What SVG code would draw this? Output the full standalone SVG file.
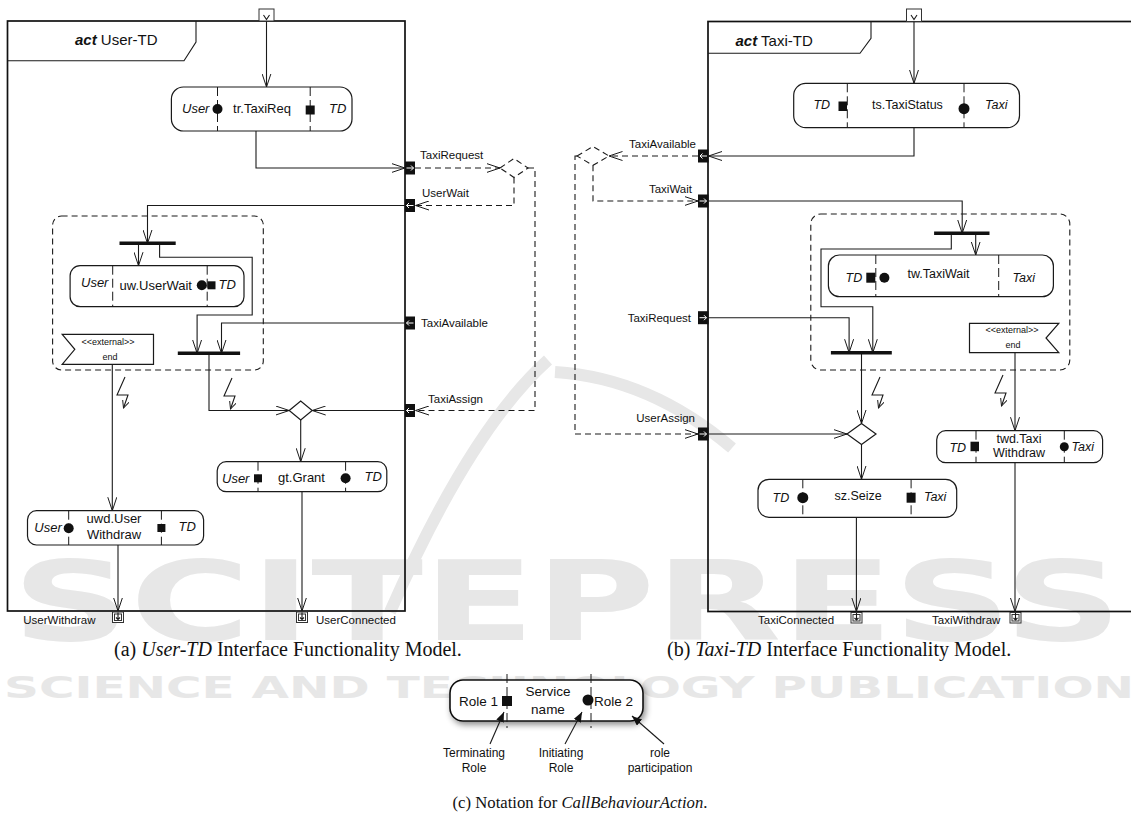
<svg xmlns="http://www.w3.org/2000/svg" width="1131" height="825" viewBox="0 0 1131 825">
<style>
.ln{fill:none;stroke:#1a1a1a;stroke-width:1.1}
.dl{fill:none;stroke:#1a1a1a;stroke-width:1.1;stroke-dasharray:6,4}
.fr{fill:none;stroke:#111;stroke-width:1.7}
.nd{fill:#fff;stroke:#1a1a1a;stroke-width:1.2}
.dv{stroke:#1a1a1a;stroke-width:1;stroke-dasharray:9,4}
.bar{stroke:#111;stroke-width:3.6}
.pin{fill:#111}
.pa{fill:none;stroke:#fff;stroke-width:1}
.op{fill:#fff;stroke:#333;stroke-width:1}
.t{font-family:"Liberation Sans",Arial,sans-serif;font-size:13px;fill:#111}
.tr{font-family:"Liberation Sans",Arial,sans-serif;font-size:12.5px;fill:#111}
.i{font-style:italic}
.lb{font-family:"Liberation Sans",Arial,sans-serif;font-size:11.5px;fill:#111}
.sm{font-family:"Liberation Sans",Arial,sans-serif;font-size:9px;fill:#111}
.ttl{font-family:"Liberation Sans",Arial,sans-serif;font-size:15px;fill:#111}
.cap{font-family:"Liberation Serif","Times New Roman",serif;font-size:20px;fill:#111}
.capc{font-family:"Liberation Serif","Times New Roman",serif;font-size:16.7px;fill:#111}
.lg{font-family:"Liberation Sans",Arial,sans-serif;font-size:13.5px;fill:#111}
.lgs{font-family:"Liberation Sans",Arial,sans-serif;font-size:12px;fill:#111}
.wm{font-family:"DejaVu Sans",sans-serif;font-weight:bold;fill:#e7e7e7}
</style>
<defs>
<marker id="oa" viewBox="0 0 14 10" refX="13.5" refY="5" markerWidth="14" markerHeight="10" markerUnits="userSpaceOnUse" orient="auto"><path d="M0,0.5 L13.5,5 L0,9.5" fill="none" stroke="#1a1a1a" stroke-width="1"/></marker>
<marker id="sa" viewBox="0 0 8 7" refX="7.5" refY="3.5" markerWidth="8" markerHeight="7" markerUnits="userSpaceOnUse" orient="auto"><path d="M0,0 L7.5,3.5 L0,7" fill="none" stroke="#1a1a1a" stroke-width="1"/></marker>
<marker id="fa" viewBox="0 0 10 8" refX="10" refY="4" markerWidth="10" markerHeight="8" markerUnits="userSpaceOnUse" orient="auto"><path d="M0,0 L10,4 L0,8 z" fill="#111"/></marker>
<filter id="sh" x="-20%" y="-40%" width="140%" height="180%"><feDropShadow dx="2" dy="3" stdDeviation="3" flood-color="#000" flood-opacity="0.45"/></filter>
<path id="lt" d="M0,0 L-8,18 L3,18 L-1.5,31" class="ln" marker-end="url(#sa)"/>
</defs>
<rect width="1131" height="825" fill="#fff"/>

<g id="watermark">
<path d="M548,360 Q470,430 390,612" fill="none" stroke="#e7e7e7" stroke-width="12"/>
<path d="M555,372 Q650,378 732,448" fill="none" stroke="#e7e7e7" stroke-width="12"/>
<text class="wm" x="12" y="640" font-size="110" textLength="1110" lengthAdjust="spacingAndGlyphs">SCITEPRESS</text>
<text class="wm" x="4" y="698" font-size="30" textLength="1165" lengthAdjust="spacingAndGlyphs">SCIENCE AND TECHNOLOGY PUBLICATIONS</text>
</g>

<g id="frame-user-td">
<rect class="fr" x="7.5" y="21" width="397.5" height="590"/>
<path class="ln" d="M7.5,60.7 H184 L196,42 V21" stroke-width="1.2"/>
<text class="ttl" x="75" y="45"><tspan font-weight="bold" font-style="italic">act</tspan> User-TD</text>
</g>

<g id="frame-taxi-td">
<rect class="fr" x="708" y="21.5" width="440" height="590"/>
<path class="ln" d="M708,53.3 H860 L871,38.3 V21.5" stroke-width="1.2"/>
<text class="ttl" x="735.5" y="46"><tspan font-weight="bold" font-style="italic">act</tspan> Taxi-TD</text>
</g>

<g id="connectors">
<path class="ln" d="M266.5,9 V87" marker-end="url(#oa)"/>
<path class="ln" d="M256,131 V168 H405" marker-end="url(#oa)"/>
<path class="dl" d="M415,168 H500" marker-end="url(#oa)"/>
<path class="dl" d="M528,168 H535 V410.5 H415.5" marker-end="url(#oa)"/>
<path class="dl" d="M514,177.5 V205.5 H415.5" marker-end="url(#oa)"/>
<path class="ln" d="M405,205.5 H147.5 V243.3" marker-end="url(#oa)"/>
<path class="ln" d="M138.5,243.3 V265.7" marker-end="url(#oa)"/>
<path class="ln" d="M159.6,243.3 V257.3 H252.2 V315 H197.1 V353.3" marker-end="url(#oa)"/>
<path class="ln" d="M405,323 H221.5 V353.3" marker-end="url(#oa)"/>
<path class="ln" d="M209,353.3 V410.5 H289.2" marker-end="url(#oa)"/>
<path class="ln" d="M405,410.5 H312.2" marker-end="url(#oa)"/>
<path class="ln" d="M300.7,420 V461.7" marker-end="url(#oa)"/>
<path class="ln" d="M112.3,364.3 V510.7" marker-end="url(#oa)"/>
<path class="ln" d="M302,491.7 V611" marker-end="url(#oa)"/>
<path class="ln" d="M118,545 V611" marker-end="url(#oa)"/>
<use href="#lt" x="125" y="377"/>
<use href="#lt" x="232" y="378"/>
<path class="ln" d="M914,9 V83.3" marker-end="url(#oa)"/>
<path class="ln" d="M914,127.7 V156 H708.5" marker-end="url(#oa)"/>
<path class="dl" d="M698,156 H609" marker-end="url(#oa)"/>
<path class="dl" d="M577,156 H575 V434 H698" marker-end="url(#oa)"/>
<path class="dl" d="M593,165.3 V201 H698" marker-end="url(#oa)"/>
<path class="ln" d="M708.5,201 H962.2 V233.3" marker-end="url(#oa)"/>
<path class="ln" d="M975.7,233.3 V255" marker-end="url(#oa)"/>
<path class="ln" d="M951.3,233.3 V249 H821 V306.7 H872.8 V352.7" marker-end="url(#oa)"/>
<path class="ln" d="M708.5,317.7 H849.1 V352.7" marker-end="url(#oa)"/>
<path class="ln" d="M861.5,352.7 V423.5" marker-end="url(#oa)"/>
<path class="ln" d="M708.5,434 H847" marker-end="url(#oa)"/>
<path class="ln" d="M861.5,444.5 V479.3" marker-end="url(#oa)"/>
<path class="ln" d="M856.4,517.3 V611.5" marker-end="url(#oa)"/>
<path class="ln" d="M1015,352.7 V430.7" marker-end="url(#oa)"/>
<path class="ln" d="M1015,462.7 V611.5" marker-end="url(#oa)"/>
<use href="#lt" x="880" y="377"/>
<use href="#lt" x="1003" y="375"/>
</g>

<g id="pins-user-td">
<rect class="op" x="259" y="9" width="15" height="12"/>
<path class="ln" d="M263.5,15 L266.5,19.5 L269.5,15"/>
<rect class="pin" x="405" y="161.5" width="10" height="13"/>
<path class="pa" d="M406.5,168 H413.5 M411,165.5 L413.5,168 L411,170.5"/>
<text class="lb" x="420" y="159">TaxiRequest</text>
<rect class="pin" x="405" y="199" width="10" height="13"/>
<path class="pa" d="M413.5,205.5 H406.5 M409,203 L406.5,205.5 L409,208"/>
<text class="lb" x="422" y="197">UserWait</text>
<rect class="pin" x="405" y="316.5" width="10" height="13"/>
<path class="pa" d="M413.5,323 H406.5 M409,320.5 L406.5,323 L409,325.5"/>
<text class="lb" x="421" y="327">TaxiAvailable</text>
<rect class="pin" x="405" y="404" width="10" height="13"/>
<path class="pa" d="M413.5,410.5 H406.5 M409,408 L406.5,410.5 L409,413"/>
<text class="lb" x="428" y="403">TaxiAssign</text>
<rect class="op" x="112.5" y="612" width="11" height="10.5"/>
<rect class="op" x="114.5" y="614" width="7" height="6.5"/>
<path class="ln" d="M118,612.5 V619.5 M116,617.5 L118,619.5 L120,617.5"/>
<text class="lb" x="23.3" y="624">UserWithdraw</text>
<rect class="op" x="296.5" y="612" width="11" height="10.5"/>
<rect class="op" x="298.5" y="614" width="7" height="6.5"/>
<path class="ln" d="M302,612.5 V619.5 M300,617.5 L302,619.5 L304,617.5"/>
<text class="lb" x="316" y="624">UserConnected</text>
</g>

<g id="pins-taxi-td">
<rect class="op" x="906.5" y="9" width="15" height="12.5"/>
<path class="ln" d="M911,15 L914,19.5 L917,15"/>
<rect class="pin" x="698" y="149.5" width="10.5" height="13"/>
<path class="pa" d="M707,156 H700 M702.5,153.5 L700,156 L702.5,158.5"/>
<text class="lb" x="696" y="147.5" text-anchor="end">TaxiAvailable</text>
<rect class="pin" x="698" y="194.5" width="10.5" height="13"/>
<path class="pa" d="M699.5,201 H706.5 M704,198.5 L706.5,201 L704,203.5"/>
<text class="lb" x="692" y="193.3" text-anchor="end">TaxiWait</text>
<rect class="pin" x="698" y="311.2" width="10.5" height="13"/>
<path class="pa" d="M699.5,317.7 H706.5 M704,315.2 L706.5,317.7 L704,320.2"/>
<text class="lb" x="691" y="321.5" text-anchor="end">TaxiRequest</text>
<rect class="pin" x="698" y="427.5" width="10.5" height="13"/>
<path class="pa" d="M699.5,434 H706.5 M704,431.5 L706.5,434 L704,436.5"/>
<text class="lb" x="695" y="421.7" text-anchor="end">UserAssign</text>
<rect class="op" x="851" y="612.5" width="11" height="10.5"/>
<rect class="op" x="853" y="614.5" width="7" height="6.5"/>
<path class="ln" d="M856.5,613 V620 M854.5,618 L856.5,620 L858.5,618"/>
<text class="lb" x="758" y="623.5">TaxiConnected</text>
<rect class="op" x="1010" y="612.5" width="11" height="10.5"/>
<rect class="op" x="1012" y="614.5" width="7" height="6.5"/>
<path class="ln" d="M1015.5,613 V620 M1013.5,618 L1015.5,620 L1017.5,618"/>
<text class="lb" x="932" y="623.5">TaxiWithdraw</text>
</g>

<g id="outer-decisions">
<polygon class="dl" points="500,168 514,158.5 528,168 514,177.5" fill="#fff"/>
<polygon class="dl" points="577,156 593,146.5 609,156 593,165.3" fill="#fff"/>
</g>

<g id="region-user"><rect x="52.6" y="216" width="210.7" height="154" rx="9" class="dl"/></g>
<g id="region-taxi"><rect x="810.8" y="214" width="259" height="156" rx="10" class="dl"/></g>

<g id="fork-user-1"><line class="bar" x1="119.5" y1="243.3" x2="175.7" y2="243.3"/></g>
<g id="join-user-1"><line class="bar" x1="177.8" y1="353.3" x2="240.1" y2="353.3"/></g>
<g id="decision-user"><polygon class="nd" points="289.2,410.5 300.7,401 312.2,410.5 300.7,420"/></g>
<g id="fork-taxi-1"><line class="bar" x1="934.1" y1="233.3" x2="989.5" y2="233.3"/></g>
<g id="join-taxi-1"><line class="bar" x1="830.9" y1="352.7" x2="891.8" y2="352.7"/></g>
<g id="decision-taxi"><polygon class="nd" points="847,434 861.5,423.5 876,434 861.5,444.5"/></g>

<g id="node-tr-taxireq">
<rect class="nd" x="171.4" y="87" width="180.6" height="44" rx="12"/>
<line class="dv" x1="217.5" y1="87" x2="217.5" y2="131"/>
<line class="dv" x1="310.2" y1="87" x2="310.2" y2="131"/>
<circle cx="217.5" cy="109" r="5" fill="#111"/>
<rect x="305.7" y="105.5" width="9" height="9" fill="#111"/>
<text class="t i" x="182" y="113">User</text>
<text class="t" x="262" y="113" text-anchor="middle">tr.TaxiReq</text>
<text class="t i" x="329" y="113">TD</text>
</g>

<g id="node-uw-userwait">
<rect class="nd" x="70.1" y="265.7" width="173.9" height="41" rx="10"/>
<line class="dv" x1="112.7" y1="265.7" x2="112.7" y2="306.7"/>
<line class="dv" x1="207.2" y1="265.7" x2="207.2" y2="306.7"/>
<circle cx="201.8" cy="285.3" r="5" fill="#111"/>
<rect x="207.5" y="281.3" width="8" height="8" fill="#111"/>
<text class="t i" x="81" y="287">User</text>
<text class="t" x="119.5" y="290">uw.UserWait</text>
<text class="t i" x="218.6" y="288.5">TD</text>
</g>

<g id="flag-user-end">
<polygon class="nd" points="62.2,334.3 153.5,334.3 153.5,364.3 62.2,364.3 74.8,349.3"/>
<text class="sm" x="108" y="345" text-anchor="middle">&lt;&lt;external&gt;&gt;</text>
<text class="sm" x="110" y="359.5" text-anchor="middle" font-size="10.5">end</text>
</g>

<g id="node-gt-grant">
<rect class="nd" x="217.2" y="461.7" width="169.6" height="30" rx="9"/>
<line class="dv" x1="258" y1="461.7" x2="258" y2="491.7"/>
<line class="dv" x1="345.6" y1="461.7" x2="345.6" y2="491.7"/>
<rect x="254" y="474.3" width="8" height="8" fill="#111"/>
<circle cx="345.6" cy="478.3" r="5" fill="#111"/>
<text class="t i" x="222" y="482.5">User</text>
<text class="t" x="278" y="481.5">gt.Grant</text>
<text class="t i" x="364.6" y="481">TD</text>
</g>

<g id="node-uwd-userwithdraw">
<rect class="nd" x="27.5" y="510.7" width="176.1" height="34.3" rx="9"/>
<line class="dv" x1="68.7" y1="510.7" x2="68.7" y2="545"/>
<line class="dv" x1="161.4" y1="510.7" x2="161.4" y2="545"/>
<circle cx="68.7" cy="528.3" r="5" fill="#111"/>
<rect x="157.4" y="524" width="8" height="8" fill="#111"/>
<text class="t i" x="34.3" y="531.5">User</text>
<text class="t" x="114" y="522.5" text-anchor="middle">uwd.User</text>
<text class="t" x="114" y="538.5" text-anchor="middle">Withdraw</text>
<text class="t i" x="178.5" y="531">TD</text>
</g>

<g id="node-ts-taxistatus">
<rect class="nd" x="793.7" y="83.3" width="225.8" height="44.4" rx="12"/>
<line class="dv" x1="847.3" y1="83.3" x2="847.3" y2="127.7"/>
<line class="dv" x1="964" y1="83.3" x2="964" y2="127.7"/>
<rect x="838.5" y="101.5" width="8.5" height="9.5" fill="#111"/>
<circle cx="964" cy="108.7" r="5.5" fill="#111"/>
<text class="tr i" x="813.4" y="108.5">TD</text>
<text class="tr" x="872" y="108.5">ts.TaxiStatus</text>
<text class="tr i" x="985" y="108.5">Taxi</text>
</g>

<g id="node-tw-taxiwait">
<rect class="nd" x="828.4" y="255" width="225" height="41.7" rx="11"/>
<line class="dv" x1="875.8" y1="255" x2="875.8" y2="296.7"/>
<line class="dv" x1="998.7" y1="255" x2="998.7" y2="296.7"/>
<rect x="866.3" y="272.7" width="9" height="10" fill="#111"/>
<circle cx="884.4" cy="277.7" r="5" fill="#111"/>
<text class="tr i" x="845.5" y="281.7">TD</text>
<text class="tr" x="907.5" y="278.3">tw.TaxiWait</text>
<text class="tr i" x="1012.5" y="281.7">Taxi</text>
</g>

<g id="flag-taxi-end">
<polygon class="nd" points="969.5,323.3 1058.8,323.3 1046,338 1058.8,352.7 969.5,352.7"/>
<text class="sm" x="1012" y="333.3" text-anchor="middle">&lt;&lt;external&gt;&gt;</text>
<text class="sm" x="1013" y="348" text-anchor="middle" font-size="10.5">end</text>
</g>

<g id="node-sz-seize">
<rect class="nd" x="758" y="479.3" width="198.7" height="38" rx="11"/>
<line class="dv" x1="802.8" y1="479.3" x2="802.8" y2="517.3"/>
<line class="dv" x1="911.1" y1="479.3" x2="911.1" y2="517.3"/>
<circle cx="802.8" cy="497.7" r="5.5" fill="#111"/>
<rect x="906.6" y="492.7" width="9" height="10" fill="#111"/>
<text class="tr i" x="772.6" y="501.5">TD</text>
<text class="tr" x="834.5" y="500">sz.Seize</text>
<text class="tr i" x="923.9" y="501">Taxi</text>
</g>

<g id="node-twd-taxiwithdraw">
<rect class="nd" x="936.7" y="430.7" width="165.9" height="32" rx="9"/>
<line class="dv" x1="976" y1="430.7" x2="976" y2="462.7"/>
<line class="dv" x1="1064.3" y1="430.7" x2="1064.3" y2="462.7"/>
<rect x="970.5" y="441.7" width="8.5" height="9.5" fill="#111"/>
<circle cx="1064.3" cy="446.7" r="4.5" fill="#111"/>
<text class="tr i" x="949.4" y="451.5">TD</text>
<text class="tr" x="1019" y="442.7" text-anchor="middle">twd.Taxi</text>
<text class="tr" x="1019" y="456.7" text-anchor="middle">Withdraw</text>
<text class="tr i" x="1071.6" y="451">Taxi</text>
</g>

<g id="captions">
<text class="cap" x="114" y="656">(a) <tspan font-style="italic">User-TD</tspan> Interface Functionality Model.</text>
<text class="cap" x="667" y="656">(b) <tspan font-style="italic">Taxi-TD</tspan> Interface Functionality Model.</text>
<text class="capc" x="580" y="808" text-anchor="middle">(c) Notation for <tspan font-style="italic">CallBehaviourAction</tspan>.</text>
</g>

<g id="legend">
<rect x="450" y="680" width="193" height="41" rx="13" fill="#fff" stroke="#111" stroke-width="1.6" filter="url(#sh)"/>
<line class="dv" x1="507" y1="674" x2="507" y2="728"/>
<line class="dv" x1="591" y1="674" x2="591" y2="728"/>
<rect x="502" y="696" width="10" height="10" fill="#111"/>
<circle cx="588" cy="700" r="5.5" fill="#111"/>
<text class="lg" x="459" y="706">Role 1</text>
<text class="lg" x="548" y="696" text-anchor="middle">Service</text>
<text class="lg" x="548" y="714" text-anchor="middle">name</text>
<text class="lg" x="594" y="706">Role 2</text>
<path class="ln" d="M490,744 L504,712" stroke-width="1.3" marker-end="url(#fa)"/>
<path class="ln" d="M565,744 L582,712" stroke-width="1.3" marker-end="url(#fa)"/>
<path class="ln" d="M664,744 L632,716" stroke-width="1.3" marker-end="url(#fa)"/>
<text class="lgs" x="474" y="757" text-anchor="middle">Terminating</text>
<text class="lgs" x="474" y="772" text-anchor="middle">Role</text>
<text class="lgs" x="561" y="757" text-anchor="middle">Initiating</text>
<text class="lgs" x="561" y="772" text-anchor="middle">Role</text>
<text class="lgs" x="660" y="757" text-anchor="middle">role</text>
<text class="lgs" x="660" y="772" text-anchor="middle">participation</text>
</g>
</svg>
